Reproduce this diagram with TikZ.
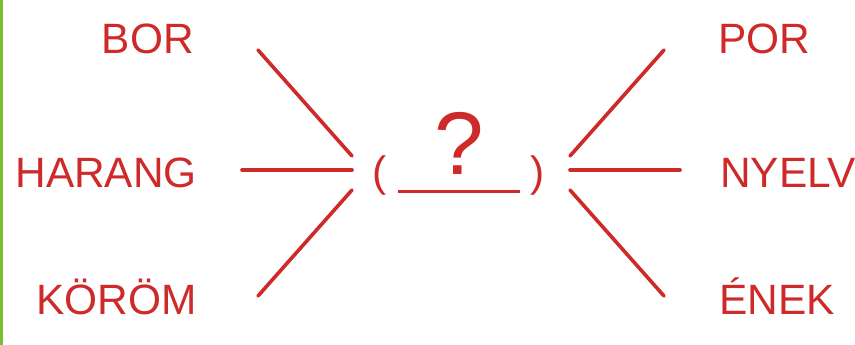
\documentclass[tikz,border=0pt]{standalone}
\usepackage{fontspec}
\setmainfont{Liberation Sans}
\definecolor{wred}{RGB}{206,42,42}
\definecolor{wgreen}{RGB}{122,190,52}
\begin{document}
\begin{tikzpicture}[x=1pt,y=-1pt,
  word/.style={text=wred,font=\fontsize{42.4}{42.4}\selectfont,inner sep=0pt},
  leftword/.style={word,anchor=base east},
  rightword/.style={word,anchor=base west},
  link/.style={draw=wred,line width=3.6pt,line cap=round}]
\useasboundingbox (0,0) rectangle (855,345);
\fill[white] (0,0) rectangle (855,345);
\fill[wgreen] (0,0) rectangle (2.5,345);
% words
\node[leftword] (bor) at (194,54) {BOR};
\node[leftword] (harang) at (197,187) {HARANG};
\node[leftword] (korom) at (197,314) {KÖRÖM};
\node[rightword] (por) at (718,54) {POR};
\node[rightword] (nyelv) at (720,187) {NYELV};
\node[rightword] (enek) at (719,314) {ÉNEK};
% centre
\node[word,anchor=base] (lp) at (380,186) {(};
\node[word,anchor=base] (rp) at (538,186) {)};
\node[text=wred,font=\fontsize{89}{89}\selectfont,inner sep=0pt,anchor=base] (q) at (459,175) {?};
\coordinate (ul) at (398,191.5);
\coordinate (ur) at (520,191.5);
\draw[draw=wred,line width=3pt] (ul) -- (ur);
% line ends
\coordinate (a1) at (258,50);  \coordinate (b1) at (352,156);
\coordinate (a2) at (242,170); \coordinate (b2) at (352,170);
\coordinate (a3) at (258,296); \coordinate (b3) at (352,190);
\coordinate (c1) at (664,50);  \coordinate (d1) at (570,156);
\coordinate (c2) at (680,170); \coordinate (d2) at (570,170);
\coordinate (c3) at (664,296); \coordinate (d3) at (570,190);
\draw[link] (a1) -- (b1);
\draw[link] (a2) -- (b2);
\draw[link] (a3) -- (b3);
\draw[link] (c1) -- (d1);
\draw[link] (c2) -- (d2);
\draw[link] (c3) -- (d3);
\end{tikzpicture}
\end{document}
